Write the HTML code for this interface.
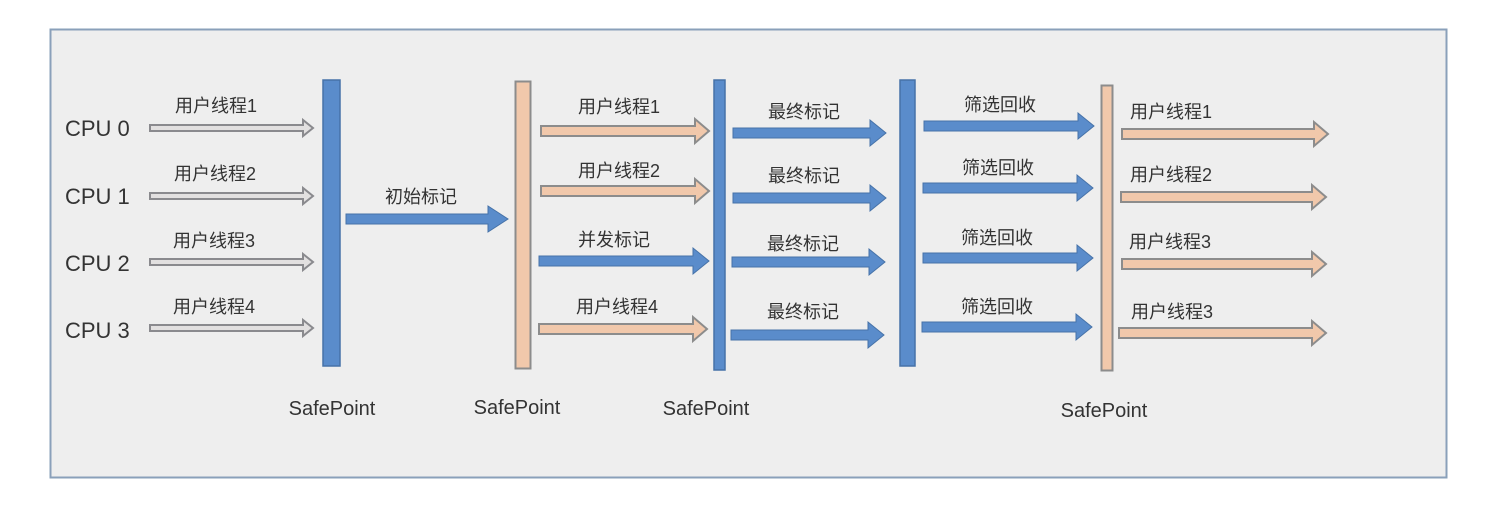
<!DOCTYPE html>
<html><head><meta charset="utf-8"><style>
html,body{margin:0;padding:0;background:#fff;}
svg{display:block;}
text{font-family:"Liberation Sans","Noto Sans CJK SC",sans-serif;fill:#333;}
</style></head><body>
<svg width="1496" height="521" viewBox="0 0 1496 521" xmlns="http://www.w3.org/2000/svg">
<defs>
<g id="ga"><path d="M0,-3 H153 V-7 L163,0 L153,7 V3 H0 Z" fill="#e4e2e2" stroke="#8a8a8e" stroke-width="2"/></g>
</defs>
<rect x="50.5" y="29.5" width="1396" height="448" fill="#eeeeee" stroke="#8aa0ba" stroke-width="2"/>
<!-- CPU labels -->
<g font-size="22">
<text x="65" y="136">CPU 0</text>
<text x="65" y="204">CPU 1</text>
<text x="65" y="271">CPU 2</text>
<text x="65" y="338">CPU 3</text>
</g>
<!-- gray arrows -->
<path d="M150,125 H303 V120 L313,128 L303,136 V131 H150 Z" fill="#e2e0e0" stroke="#8a8a8e" stroke-width="2"/>
<path d="M150,193 H303 V188 L313,196 L303,204 V199 H150 Z" fill="#e2e0e0" stroke="#8a8a8e" stroke-width="2"/>
<path d="M150,259 H303 V254 L313,262 L303,270 V265 H150 Z" fill="#e2e0e0" stroke="#8a8a8e" stroke-width="2"/>
<path d="M150,325 H303 V320 L313,328 L303,336 V331 H150 Z" fill="#e2e0e0" stroke="#8a8a8e" stroke-width="2"/>
<g font-size="18">
<text x="175" y="112">用户线程1</text>
<text x="174" y="180">用户线程2</text>
<text x="173" y="247">用户线程3</text>
<text x="173" y="313">用户线程4</text>
</g>
<!-- bars -->
<rect x="323" y="80" width="17" height="286" fill="#5a8ccb" stroke="#4672a8" stroke-width="1.5"/>
<rect x="515.5" y="81.5" width="15" height="287" fill="#f1c8ab" stroke="#8c8c8c" stroke-width="2"/>
<rect x="714" y="80" width="11" height="290" fill="#5a8ccb" stroke="#4672a8" stroke-width="1.5"/>
<rect x="900" y="80" width="15" height="286" fill="#5a8ccb" stroke="#4672a8" stroke-width="1.5"/>
<rect x="1101.5" y="85.5" width="11" height="285" fill="#f1c8ab" stroke="#8c8c8c" stroke-width="2"/>
<!-- 初始标记 -->
<path d="M346,214 H488 V206 L508,219 L488,232 V224 H346 Z" fill="#5a8ccb" stroke="#4672a8" stroke-width="1"/>
<text x="385" y="203" font-size="18">初始标记</text>
<!-- col2 -->
<path d="M541,126 H695 V119 L709,131 L695,143 V136 H541 Z" fill="#f1c8ab" stroke="#8c8c8c" stroke-width="2"/>
<path d="M541,186 H695 V179 L709,191 L695,203 V196 H541 Z" fill="#f1c8ab" stroke="#8c8c8c" stroke-width="2"/>
<path d="M539,256 H693 V248 L709,261 L693,274 V266 H539 Z" fill="#5a8ccb" stroke="#4672a8" stroke-width="1"/>
<path d="M539,324 H693 V317 L707,329 L693,341 V334 H539 Z" fill="#f1c8ab" stroke="#8c8c8c" stroke-width="2"/>
<g font-size="18">
<text x="578" y="113">用户线程1</text>
<text x="578" y="177">用户线程2</text>
<text x="578" y="246">并发标记</text>
<text x="576" y="313">用户线程4</text>
</g>
<!-- col3 -->
<path d="M733,128 H870 V120 L886,133 L870,146 V138 H733 Z" fill="#5a8ccb" stroke="#4672a8" stroke-width="1"/>
<path d="M733,193 H870 V185 L886,198 L870,211 V203 H733 Z" fill="#5a8ccb" stroke="#4672a8" stroke-width="1"/>
<path d="M732,257 H869 V249 L885,262 L869,275 V267 H732 Z" fill="#5a8ccb" stroke="#4672a8" stroke-width="1"/>
<path d="M731,330 H868 V322 L884,335 L868,348 V340 H731 Z" fill="#5a8ccb" stroke="#4672a8" stroke-width="1"/>
<g font-size="18">
<text x="768" y="118">最终标记</text>
<text x="768" y="182">最终标记</text>
<text x="767" y="250">最终标记</text>
<text x="767" y="318">最终标记</text>
</g>
<!-- col4 -->
<path d="M924,121 H1078 V113 L1094,126 L1078,139 V131 H924 Z" fill="#5a8ccb" stroke="#4672a8" stroke-width="1"/>
<path d="M923,183 H1077 V175 L1093,188 L1077,201 V193 H923 Z" fill="#5a8ccb" stroke="#4672a8" stroke-width="1"/>
<path d="M923,253 H1077 V245 L1093,258 L1077,271 V263 H923 Z" fill="#5a8ccb" stroke="#4672a8" stroke-width="1"/>
<path d="M922,322 H1076 V314 L1092,327 L1076,340 V332 H922 Z" fill="#5a8ccb" stroke="#4672a8" stroke-width="1"/>
<g font-size="18">
<text x="964" y="111">筛选回收</text>
<text x="962" y="174">筛选回收</text>
<text x="961" y="244">筛选回收</text>
<text x="961" y="313">筛选回收</text>
</g>
<!-- col5 -->
<path d="M1122,129 H1314 V122 L1328,134 L1314,146 V139 H1122 Z" fill="#f1c8ab" stroke="#8c8c8c" stroke-width="2"/>
<path d="M1121,192 H1312 V185 L1326,197 L1312,209 V202 H1121 Z" fill="#f1c8ab" stroke="#8c8c8c" stroke-width="2"/>
<path d="M1122,259 H1312 V252 L1326,264 L1312,276 V269 H1122 Z" fill="#f1c8ab" stroke="#8c8c8c" stroke-width="2"/>
<path d="M1119,328 H1312 V321 L1326,333 L1312,345 V338 H1119 Z" fill="#f1c8ab" stroke="#8c8c8c" stroke-width="2"/>
<g font-size="18">
<text x="1130" y="118">用户线程1</text>
<text x="1130" y="181">用户线程2</text>
<text x="1129" y="248">用户线程3</text>
<text x="1131" y="318">用户线程3</text>
</g>
<!-- SafePoint labels -->
<g font-size="20" text-anchor="middle">
<text x="332" y="415">SafePoint</text>
<text x="517" y="414">SafePoint</text>
<text x="706" y="415">SafePoint</text>
<text x="1104" y="417">SafePoint</text>
</g>
</svg>
</body></html>
